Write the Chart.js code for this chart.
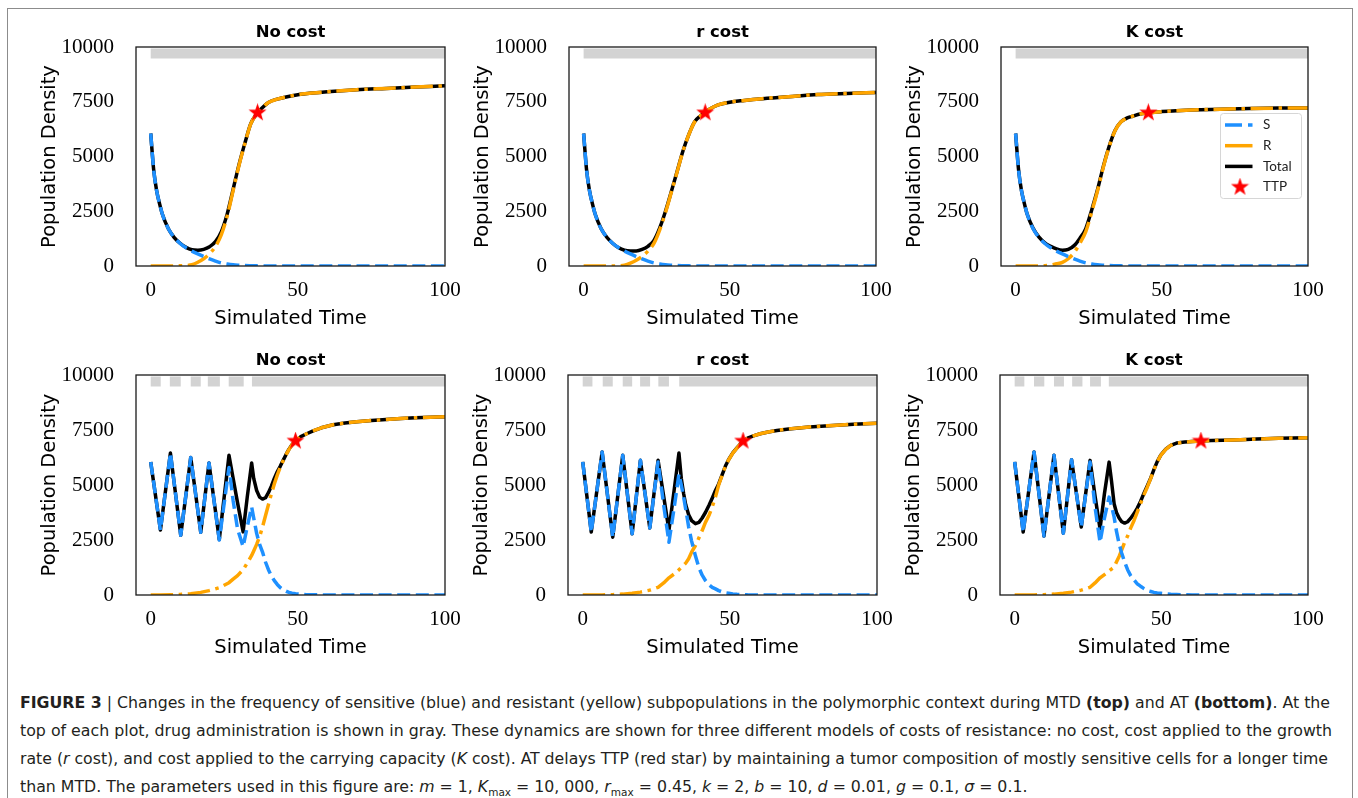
<!DOCTYPE html>
<html>
<head>
<meta charset="utf-8">
<script src="https://cdn.jsdelivr.net/npm/chart.js@4/dist/chart.umd.min.js"></script>
<style>
  body { margin: 0; background: #fff; width: 1358px; height: 798px; position: relative; overflow: hidden; }
  #frame { position: absolute; left: 7px; top: 8px; width: 1346px; height: 820px; border: 1px solid #8c8c8c; box-sizing: border-box; }
  canvas.panel { position: absolute; }
  .cl { position: absolute; left: 20px; height: 28px; line-height: 28px; white-space: nowrap; color: #231f20;
        font-family: "Liberation Sans Narrow", "DejaVu Sans Condensed", "Liberation Sans", sans-serif; font-size: 16.5px; }
  .cl span { display: inline-block; transform-origin: 0 50%; }
  .cl sub { font-size: 11px; line-height: 0; }
</style>
</head>
<body>
<div id="frame"></div>
<canvas class="panel" id="mtdNoCost"></canvas>
<canvas class="panel" id="mtdRCost"></canvas>
<canvas class="panel" id="mtdKCost"></canvas>
<canvas class="panel" id="atNoCost"></canvas>
<canvas class="panel" id="atRCost"></canvas>
<canvas class="panel" id="atKCost"></canvas>

<div class="cl" style="top:689px"><span><b>FIGURE 3</b> | Changes in the frequency of sensitive (blue) and resistant (yellow) subpopulations in the polymorphic context during MTD <b>(top)</b> and AT <b>(bottom)</b>. At the</span></div>
<div class="cl" style="top:717px"><span>top of each plot, drug administration is shown in gray. These dynamics are shown for three different models of costs of resistance: no cost, cost applied to the growth</span></div>
<div class="cl" style="top:745px"><span>rate (<i>r</i> cost), and cost applied to the carrying capacity (<i>K</i> cost). AT delays TTP (red star) by maintaining a tumor composition of mostly sensitive cells for a longer time</span></div>
<div class="cl" style="top:773px"><span>than MTD. The parameters used in this figure are: <i>m</i> = 1, <i>K</i><sub>max</sub> = 10, 000, <i>r</i><sub>max</sub> = 0.45, <i>k</i> = 2, <i>b</i> = 10, <i>d</i> = 0.01, <i>g</i> = 0.1, <i>σ</i> = 0.1.</span></div>

<script>
// ticks and titles
const xTickVals = [0, 50, 100];
const yTickVals = [0, 2500, 5000, 7500, 10000];
const costTitles = ["No cost", "r cost", "K cost"];
const ttpLevel = 7000;

// MTD (top row)
const tMtd = [0, 1, 2, 3, 4, 6, 8, 10, 12, 14, 16, 18, 20, 22, 24, 26, 28, 30, 32, 34, 36, 38, 40, 43, 46, 50, 55, 60, 70, 80, 90, 100];
const sMtd = [6050, 4400, 3450, 2850, 2350, 1700, 1300, 1030, 830, 680, 550, 430, 320, 220, 140, 90, 55, 35, 20, 12, 6, 3, 0, 0, 0, 0, 0, 0, 0, 0, 0, 0];
const rMtdNoCost = [0, 0, 0, 0, 0, 0, 0, 10, 20, 60, 170, 330, 560, 890, 1430, 2290, 3445, 4595, 5590, 6488, 6944, 7237, 7470, 7620, 7720, 7820, 7900, 7960, 8050, 8110, 8170, 8230];
const totMtdNoCost = [6050, 4400, 3450, 2850, 2350, 1700, 1300, 1040, 850, 740, 720, 760, 880, 1110, 1570, 2380, 3500, 4630, 5610, 6500, 6950, 7240, 7470, 7620, 7720, 7820, 7900, 7960, 8050, 8110, 8170, 8230];
const rMtdRCost = [0, 0, 0, 0, 0, 0, 0, 0, 10, 40, 130, 260, 440, 680, 1020, 1640, 2445, 3365, 4310, 5248, 6004, 6587, 6860, 7160, 7360, 7480, 7560, 7630, 7730, 7830, 7880, 7920];
const totMtdRCost = [6050, 4400, 3450, 2850, 2350, 1700, 1300, 1030, 830, 720, 690, 690, 760, 900, 1160, 1730, 2500, 3400, 4330, 5260, 6010, 6590, 6860, 7160, 7360, 7480, 7560, 7630, 7730, 7830, 7880, 7920];
const rMtdKCost = [0, 0, 0, 0, 0, 0, 0, 10, 40, 100, 170, 330, 610, 1050, 1570, 2460, 3425, 4515, 5450, 6178, 6574, 6747, 6840, 6950, 7005, 7050, 7090, 7120, 7160, 7190, 7210, 7220];
const totMtdKCost = [6050, 4400, 3450, 2850, 2350, 1720, 1320, 1060, 900, 780, 720, 760, 930, 1270, 1710, 2550, 3480, 4550, 5470, 6190, 6580, 6750, 6840, 6950, 7005, 7050, 7090, 7120, 7160, 7190, 7210, 7220];
const drugMtd = [[0, 100]];
const ttpMtd = [36.3, 41.6, 45.4];

// AT (bottom row), no cost
const tAtNoCost = [0, 3.3, 6.7, 10.2, 13.6, 17, 19.8, 23.3, 26.6, 28, 29.5, 31.4, 32.8, 34.3, 35, 36, 37, 38, 39, 40, 41, 42, 43, 44, 45, 46, 47, 48, 49.2, 51, 53, 55, 58, 62, 66, 70, 75, 80, 85, 90, 95, 100];
const sAtNoCost = [6050, 2950, 6450, 2720, 6250, 2850, 6000, 2500, 5800, 4300, 3000, 2200, 3100, 4000, 3500, 2800, 2300, 1950, 1500, 1150, 870, 650, 480, 340, 240, 170, 120, 85, 55, 30, 15, 10, 5, 0, 0, 0, 0, 0, 0, 0, 0, 0];
const rAtNoCost = [0, 0, 10, 30, 60, 120, 200, 330, 560, 720, 880, 1150, 1450, 1800, 2000, 2300, 2650, 3100, 3600, 4100, 4600, 5050, 5450, 5800, 6100, 6380, 6620, 6820, 7000, 7200, 7330, 7450, 7600, 7740, 7820, 7880, 7930, 7980, 8020, 8060, 8080, 8100];
const totAtNoCost = [6050, 2950, 6450, 2720, 6250, 2850, 6000, 2520, 6350, 5300, 4200, 2870, 4450, 6000, 5300, 4750, 4450, 4360, 4420, 4650, 4950, 5300, 5600, 5850, 6120, 6390, 6630, 6830, 7000, 7200, 7330, 7450, 7600, 7740, 7820, 7880, 7930, 7980, 8020, 8060, 8080, 8100];
const drugAtNoCost = [[0, 3.4], [6.5, 10.2], [13.6, 17], [19.4, 23.5], [26.5, 31.6], [34.4, 100]];

// AT, r cost
const tAtRCost = [0, 2.9, 6.6, 10.2, 13.6, 16.8, 19.6, 22.8, 25.6, 27.5, 29.3, 31, 32.7, 33.5, 34.3, 35, 36, 37, 38.3, 39.5, 40.6, 41.7, 43, 44, 45.1, 46.2, 47.4, 48.5, 49.6, 51, 52.4, 54.5, 56, 58, 60.3, 63, 66, 70, 77, 85, 92, 100];
const sAtRCost = [6050, 2860, 6500, 2630, 6350, 2780, 6120, 3050, 6050, 4100, 2400, 3900, 5500, 5000, 4450, 3900, 3090, 2450, 1780, 1240, 900, 660, 460, 350, 280, 200, 140, 100, 80, 50, 30, 20, 10, 5, 0, 0, 0, 0, 0, 0, 0, 0];
const rAtRCost = [0, 0, 5, 15, 40, 80, 130, 220, 350, 550, 780, 950, 1150, 1250, 1350, 1450, 1650, 1950, 2250, 2600, 2930, 3300, 3650, 4000, 4450, 5000, 5450, 5850, 6150, 6450, 6680, 7000, 7130, 7230, 7330, 7410, 7480, 7550, 7640, 7710, 7760, 7810];
const totAtRCost = [6050, 2860, 6500, 2630, 6350, 2780, 6120, 3050, 6120, 4500, 2930, 4700, 6450, 5300, 4600, 4100, 3650, 3380, 3240, 3300, 3500, 3750, 4100, 4400, 4750, 5050, 5470, 5860, 6160, 6460, 6690, 7000, 7130, 7230, 7330, 7410, 7480, 7550, 7640, 7710, 7760, 7810];
const drugAtRCost = [[0, 3.3], [6.8, 10.2], [13.6, 16.8], [19.5, 22.9], [25.7, 29.3], [32.8, 100]];

// AT, K cost
const tAtKCost = [0, 2.9, 6.6, 10, 13.4, 16.6, 19.4, 22.7, 25.7, 27.4, 29.1, 30.6, 32.2, 33, 33.9, 34.7, 35.6, 36.5, 37.5, 38.5, 39.5, 40.7, 41.8, 42.9, 44, 45.2, 46.4, 47.5, 48.6, 49.8, 51.5, 53.2, 55.2, 58, 60.5, 63.5, 67, 71, 77, 82.5, 90, 100];
const sAtKCost = [6050, 2860, 6500, 2680, 6350, 2810, 6150, 3090, 6050, 4000, 2400, 3500, 4450, 4050, 3550, 2900, 2330, 1900, 1500, 1150, 890, 680, 510, 400, 300, 205, 160, 120, 95, 80, 50, 30, 20, 10, 5, 0, 0, 0, 0, 0, 0, 0];
const rAtKCost = [0, 0, 5, 15, 40, 80, 130, 220, 350, 550, 780, 930, 1100, 1180, 1270, 1500, 1750, 2050, 2400, 2680, 3030, 3390, 3770, 4150, 4530, 4900, 5300, 5700, 6050, 6350, 6620, 6800, 6900, 6950, 6980, 7000, 7020, 7035, 7060, 7090, 7120, 7150];
const totAtKCost = [6050, 2860, 6500, 2680, 6350, 2810, 6150, 3090, 6120, 4500, 3010, 4600, 6040, 5200, 4150, 3750, 3500, 3330, 3270, 3330, 3480, 3700, 3950, 4250, 4600, 4950, 5320, 5710, 6060, 6360, 6630, 6800, 6906, 6950, 6980, 7000, 7020, 7035, 7060, 7090, 7120, 7150];
const drugAtKCost = [[0, 3.3], [6.6, 10.1], [13.4, 16.8], [19.6, 23.1], [25.7, 29.4], [32.1, 100]];
const ttpAt = [49.2, 54.5, 63.5];

const colS = "#1e90ff";
const colR = "#ffa500";
const colTot = "#000000";
const colDrug = "#d3d3d3";
const dashS = [13, 5.6];
const dashR = [22.4, 5.6, 3.5, 5.6];

const makeStar = (size, color) => {
  const c = document.createElement("canvas");
  c.width = size;
  c.height = size;
  const g = c.getContext("2d");
  const ro = size / 2, ri = ro * 0.4;
  g.beginPath();
  for (let i = 0; i < 10; i++) {
    const rad = i % 2 === 0 ? ro : ri;
    const a = -Math.PI / 2 + (i * Math.PI) / 5;
    g.lineTo(ro + rad * Math.cos(a), ro + rad * Math.sin(a));
  }
  g.closePath();
  g.fillStyle = color;
  g.fill();
  return c;
};
const star = makeStar(19, "#ff0000");

const toPts = (t, v) => t.map((x, i) => ({ x: x, y: v[i] }));
const drugPts = (spans) => {
  const pts = [];
  spans.forEach(([a, b]) => {
    pts.push({ x: a, y: 9700 }, { x: b, y: 9700 }, { x: b, y: null });
  });
  return pts;
};

// black frame round each plot
const boxPlugin = {
  id: "plotBox",
  afterDatasetsDraw(chart) {
    const { ctx, chartArea: a } = chart;
    ctx.save();
    ctx.strokeStyle = "#1a1a1a";
    ctx.lineWidth = 1.3;
    ctx.strokeRect(a.left, a.top, a.right - a.left, a.bottom - a.top);
    ctx.restore();
  },
};

// legend inside the K cost MTD plot
const legendPlugin = {
  id: "innerLegend",
  afterDraw(chart) {
    const { ctx, chartArea: a } = chart;
    const x0 = a.right - 87.5, y0 = a.top + 66.5, w = 81, h = 85;
    ctx.save();
    ctx.beginPath();
    ctx.roundRect(x0, y0, w, h, 3);
    ctx.fillStyle = "rgba(255,255,255,0.85)";
    ctx.fill();
    ctx.strokeStyle = "#d6d6d6";
    ctx.lineWidth = 1;
    ctx.stroke();
    const rows = [
      { label: "S", color: colS, dash: [17, 6] },
      { label: "R", color: colR, dash: [] },
      { label: "Total", color: colTot, dash: [] },
      { label: "TTP", star: true },
    ];
    ctx.font = "13.5px Lato";
    ctx.textBaseline = "middle";
    rows.forEach((row, i) => {
      const y = y0 + 11.5 + i * 20.7;
      if (row.star) {
        ctx.drawImage(star, x0 + 19.5 - 9.5, y - 9.5);
      } else {
        ctx.beginPath();
        ctx.setLineDash(row.dash);
        ctx.strokeStyle = row.color;
        ctx.lineWidth = 3.5;
        ctx.moveTo(x0 + 4.5, y);
        ctx.lineTo(x0 + 32, y);
        ctx.stroke();
        ctx.setLineDash([]);
      }
      ctx.fillStyle = "#222";
      ctx.fillText(row.label, x0 + 42.5, y);
    });
    ctx.restore();
  },
};

const panels = [
  { id: "mtdNoCost", box: [136, 47, 445, 266], title: costTitles[0], t: tMtd, s: sMtd, r: rMtdNoCost, tot: totMtdNoCost, drug: drugMtd, ttp: ttpMtd[0], smooth: true },
  { id: "mtdRCost", box: [569, 47, 876, 266], title: costTitles[1], t: tMtd, s: sMtd, r: rMtdRCost, tot: totMtdRCost, drug: drugMtd, ttp: ttpMtd[1], smooth: true },
  { id: "mtdKCost", box: [1001, 47, 1308, 266], title: costTitles[2], t: tMtd, s: sMtd, r: rMtdKCost, tot: totMtdKCost, drug: drugMtd, ttp: ttpMtd[2], smooth: true, legend: true },
  { id: "atNoCost", box: [136, 375, 445, 595], title: costTitles[0], t: tAtNoCost, s: sAtNoCost, r: rAtNoCost, tot: totAtNoCost, drug: drugAtNoCost, ttp: ttpAt[0], smooth: false },
  { id: "atRCost", box: [568, 375, 877, 595], title: costTitles[1], t: tAtRCost, s: sAtRCost, r: rAtRCost, tot: totAtRCost, drug: drugAtRCost, ttp: ttpAt[1], smooth: false },
  { id: "atKCost", box: [1000, 375, 1308, 595], title: costTitles[2], t: tAtKCost, s: sAtKCost, r: rAtKCost, tot: totAtKCost, drug: drugAtKCost, ttp: ttpAt[2], smooth: false },
];

const PAD_L = 110, PAD_T = 45, PAD_R = 20, PAD_B = 80;

panels.forEach((p) => {
  const [L, T, R, B] = p.box;
  const cv = document.getElementById(p.id);
  cv.width = R - L + PAD_L + PAD_R;
  cv.height = B - T + PAD_T + PAD_B;
  cv.style.left = L - PAD_L + "px";
  cv.style.top = T - PAD_T + "px";

  const lineOpts = p.smooth
    ? { cubicInterpolationMode: "monotone", borderJoinStyle: "round" }
    : { tension: 0, borderJoinStyle: "round" };

  new Chart(cv.getContext("2d"), {
    type: "line",
    data: {
      datasets: [
        {
          label: "TTP",
          data: [{ x: p.ttp, y: ttpLevel }],
          showLine: false,
          pointStyle: star,
          pointRadius: 10,
        },
        Object.assign({
          label: "S",
          data: toPts(p.t, p.s),
          borderColor: colS,
          borderWidth: 3.5,
          borderDash: dashS,
          pointRadius: 0,
        }, lineOpts),
        Object.assign({
          label: "R",
          data: toPts(p.t, p.r),
          borderColor: colR,
          borderWidth: 3.5,
          borderDash: dashR,
          pointRadius: 0,
        }, lineOpts),
        Object.assign({
          label: "Total",
          data: toPts(p.t, p.tot),
          borderColor: colTot,
          borderWidth: 3.5,
          pointRadius: 0,
        }, lineOpts),
        {
          label: "drug",
          data: drugPts(p.drug),
          borderColor: colDrug,
          borderWidth: 10,
          borderCapStyle: "butt",
          pointRadius: 0,
          tension: 0,
        },
      ],
    },
    options: {
      responsive: false,
      animation: false,
      events: [],
      layout: { padding: { top: 0, right: PAD_R, bottom: 0, left: 0 } },
      plugins: {
        legend: { display: false },
        tooltip: { enabled: false },
        title: {
          display: true,
          text: p.title,
          fullSize: false,
          color: "#000",
          font: { family: "DejaVu Sans", size: 16.5, weight: "bold" },
          padding: { top: 21, bottom: 4.2 },
        },
      },
      scales: {
        x: {
          type: "linear",
          min: -5,
          max: 100,
          grid: { display: false },
          border: { display: false },
          afterBuildTicks: (s) => { s.ticks = xTickVals.map((v) => ({ value: v })); },
          afterFit: (s) => { s.height = PAD_B; s.paddingLeft = 0; s.paddingRight = 0; },
          ticks: {
            color: "#000",
            padding: 3.5,
            maxRotation: 0,
            autoSkip: false,
            font: { family: "Liberation Serif", size: 21 },
            callback: (v) => String(v),
          },
          title: {
            display: true,
            text: "Simulated Time",
            color: "#000",
            font: { family: "DejaVu Sans", size: 19.5 },
            padding: { top: 0, bottom: 15 },
          },
        },
        y: {
          min: 0,
          max: 10000,
          grid: { display: false },
          border: { display: false },
          afterBuildTicks: (s) => { s.ticks = yTickVals.map((v) => ({ value: v })); },
          afterFit: (s) => { s.width = PAD_L; s.paddingTop = 0; s.paddingBottom = 0; },
          ticks: {
            color: "#000",
            padding: 14,
            font: { family: "Liberation Serif", size: 21 },
            callback: (v) => String(v),
          },
          title: {
            display: true,
            text: "Population Density",
            color: "#000",
            font: { family: "DejaVu Sans", size: 19.5 },
            padding: { top: 12.3, bottom: 0 },
          },
        },
      },
    },
    plugins: p.legend ? [boxPlugin, legendPlugin] : [boxPlugin],
  });
});

// fit caption lines to the column width
const capLines = document.querySelectorAll(".cl span");
const capWidths = [1310, 1312, 1308];
let scaleSum = 0;
capWidths.forEach((w, i) => {
  const k = w / capLines[i].getBoundingClientRect().width;
  capLines[i].style.transform = "scaleX(" + k + ")";
  scaleSum += k;
});
capLines[3].style.transform = "scaleX(" + scaleSum / 3 + ")";
</script>
</body>
</html>
